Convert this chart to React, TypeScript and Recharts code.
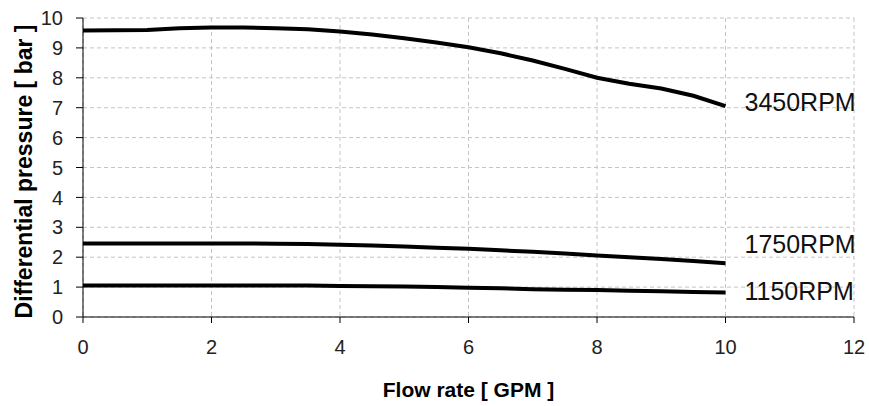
import React from "react";
import { LineChart, Line, XAxis, YAxis, CartesianGrid, Label } from "recharts";

const flow = [0, 1, 1.5, 2, 2.5, 3, 3.5, 4, 4.5, 5, 5.5, 6, 6.5, 7, 7.5, 8, 8.5, 9, 9.5, 10];
const p3450 = [9.58, 9.6, 9.66, 9.68, 9.68, 9.66, 9.62, 9.55, 9.45, 9.32, 9.18, 9.02, 8.82, 8.58, 8.3, 8.0, 7.8, 7.64, 7.4, 7.05];
const p1750 = [2.46, 2.46, 2.46, 2.46, 2.46, 2.45, 2.44, 2.42, 2.39, 2.36, 2.32, 2.28, 2.23, 2.18, 2.12, 2.06, 2.0, 1.94, 1.87, 1.8];
const p1150 = [1.05, 1.05, 1.05, 1.05, 1.05, 1.05, 1.05, 1.04, 1.03, 1.02, 1.0, 0.98, 0.96, 0.93, 0.91, 0.9, 0.88, 0.86, 0.84, 0.82];
const seriesNames = ["3450RPM", "1750RPM", "1150RPM"];
const xTicks = [0, 2, 4, 6, 8, 10, 12];
const yTicks = [0, 1, 2, 3, 4, 5, 6, 7, 8, 9, 10];

const data = flow.map((x, i) => ({ x, a: p3450[i], b: p1750[i], c: p1150[i] }));

const FONT = "'Liberation Sans', Arial, sans-serif";

const endLabel = (name: string, dy: number) => (props: any) => {
  const { x, y, index } = props;
  if (index !== data.length - 1) return null;
  return (
    <text x={x + 19} y={y + dy} fontSize={25} fontFamily={FONT} fill="#111" textAnchor="start">
      {name}
    </text>
  );
};

export default function App() {
  return (
    <div style={{ position: "absolute", left: 0, top: 0, background: "#fff" }}>
      <LineChart width={869} height={406} data={data} margin={{ top: 18, right: 15, left: 10, bottom: 49 }}>
        <CartesianGrid strokeDasharray="4 3" stroke="#c4c4c4" />
        <XAxis
          dataKey="x"
          type="number"
          domain={[0, 12]}
          ticks={xTicks}
          height={40}
          tickSize={6}
          tickMargin={17}
          stroke="#000"
          tick={{ fill: "#222", fontSize: 20, fontFamily: FONT }}
          axisLine={{ stroke: "#000", strokeWidth: 1 }}
          tickLine={{ stroke: "#000" }}
        >
          <Label
            content={(p: any) => {
              const vb = p.viewBox;
              return (
                <text x={vb.x + vb.width / 2} y={vb.y + 80} textAnchor="middle" fontSize={21} fontWeight="bold" fontFamily={FONT} fill="#000">
                  Flow rate [ GPM ]
                </text>
              );
            }}
          />
        </XAxis>
        <YAxis
          type="number"
          domain={[0, 10]}
          ticks={yTicks}
          width={73}
          tickSize={7}
          tickMargin={13}
          stroke="#000"
          tick={{ fill: "#222", fontSize: 20, fontFamily: FONT }}
          axisLine={{ stroke: "#000", strokeWidth: 1 }}
          tickLine={{ stroke: "#000" }}
        >
          <Label
            content={(p: any) => {
              const vb = p.viewBox;
              const cx = 32;
              const cy = vb.y + vb.height / 2 + 4;
              return (
                <text x={cx} y={cy} transform={`rotate(-90 ${cx} ${cy})`} textAnchor="middle" fontSize={23} fontWeight="bold" fontFamily={FONT} fill="#000">
                  Differential pressure [ bar ]
                </text>
              );
            }}
          />
        </YAxis>
        <Line dataKey="a" type="linear" stroke="#000" strokeWidth={4} dot={false} isAnimationActive={false} label={endLabel(seriesNames[0], 5)} />
        <Line dataKey="b" type="linear" stroke="#000" strokeWidth={4} dot={false} isAnimationActive={false} label={endLabel(seriesNames[1], -10)} />
        <Line dataKey="c" type="linear" stroke="#000" strokeWidth={4} dot={false} isAnimationActive={false} label={endLabel(seriesNames[2], 8)} />
      </LineChart>
    </div>
  );
}
